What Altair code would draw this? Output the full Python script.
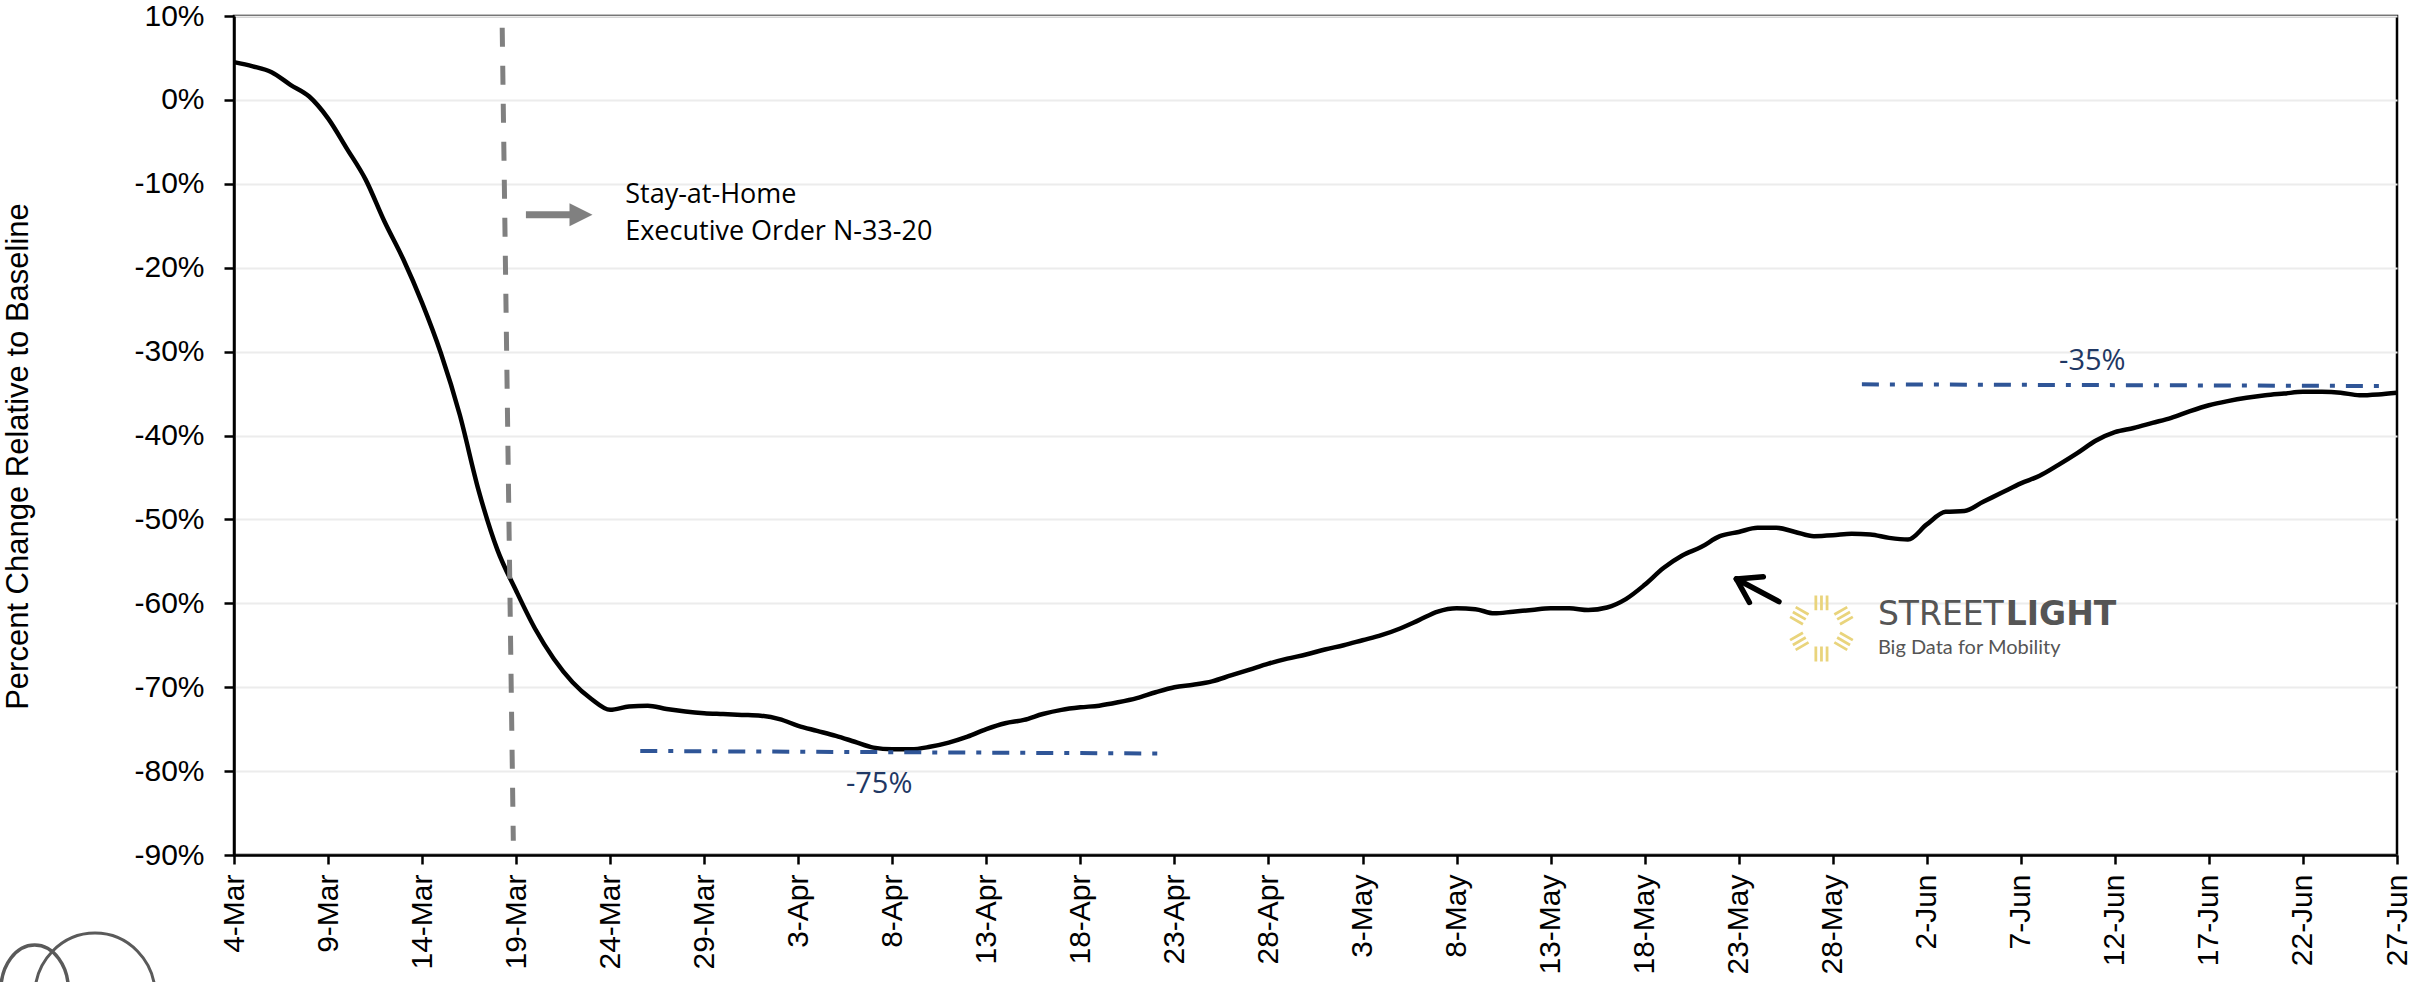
import math
import altair as alt
import pandas as pd

# ---------------- data ----------------
tick_labels = ["4-Mar", "9-Mar", "14-Mar", "19-Mar", "24-Mar", "29-Mar", "3-Apr", "8-Apr",
               "13-Apr", "18-Apr", "23-Apr", "28-Apr", "3-May", "8-May", "13-May", "18-May",
               "23-May", "28-May", "2-Jun", "7-Jun", "12-Jun", "17-Jun", "22-Jun", "27-Jun"]
tick_days = list(range(0, 116, 5))

# percent change, one value per day starting 4-Mar (day 0) to 27-Jun (day 115)
pct_change = [
    4.5, 4.0, 3.3, 1.8, 0.4, -2.2, -5.8, -9.5, -14.5, -19.0,
    -24.2, -30.2, -37.5, -46.5, -53.6, -58.5, -63.0, -66.6, -69.4, -71.4,
    -72.7, -72.3, -72.2, -72.6, -72.9, -73.1, -73.2, -73.3, -73.4, -73.8,
    -74.6, -75.2, -75.8, -76.5, -77.2, -77.4, -77.4, -77.1, -76.6, -75.9,
    -75.0, -74.3, -73.9, -73.2, -72.7, -72.4, -72.2, -71.8, -71.3, -70.6,
    -70.0, -69.7, -69.3, -68.6, -67.9, -67.2, -66.6, -66.1, -65.5, -65.0,
    -64.4, -63.8, -63.0, -62.0, -61.0, -60.6, -60.7, -61.2, -61.0, -60.8,
    -60.6, -60.6, -60.8, -60.5, -59.5, -57.8, -55.8, -54.3, -53.3, -52.0,
    -51.5, -51.0, -51.0, -51.5, -52.0, -51.9, -51.7, -51.8, -52.2, -52.4,
    -50.6, -49.1, -49.0, -47.9, -46.8, -45.7, -44.8, -43.5, -42.1, -40.6,
    -39.6, -39.1, -38.5, -37.9, -37.1, -36.4, -35.9, -35.5, -35.2, -35.0,
    -34.8, -34.8, -34.9, -35.2, -35.1, -34.9,
]
days = list(range(len(pct_change)))

# annotation anchors (day offset from 4-Mar, percent)
order_line_day = [14.26, 14.85]
order_line_pct = [8.6, -88.3]

gray_arrow_day = [15.52, 18.0]
gray_arrow_pct = -13.7
gray_head_day = 18.45

order_text = ["Stay-at-Home", "Executive Order N-33-20"]
order_text_day = [20.8, 20.8]
order_text_pct = [-11.3, -15.74]

level_seg = ["low", "low", "high", "high"]
level_day = [21.6, 49.2, 86.55, 114.1]
level_pct = [-77.6, -77.9, -33.9, -34.1]

level_text = ["-75%", "-35%"]
level_text_day = [34.3, 98.8]
level_text_pct = [-81.5, -31.1]

black_arrow_x = [79.88, 79.88, 79.88]
black_arrow_y = [-57.1, -57.1, -57.1]
black_arrow_x2 = [82.14, 81.31, 80.57]
black_arrow_y2 = [-59.8, -56.84, -59.9]

logo_day = 84.4
logo_pct = -63.0
brand_text = ["STREET", "LIGHT", "Big Data for Mobility"]
brand_day = [87.4, 94.2, 87.4]
brand_pct = [-62.6, -62.6, -66.0]

corner_day = [-10.6, -7.39]
corner_pct = [-106.1, -106.7]

# ---------------- shapes ----------------
def sun_path():
    parts = []
    for k in range(6):
        th = math.radians(90 + 60 * k)
        ux, uy = math.cos(th), -math.sin(th)
        px, py = -uy, ux
        w = 0.042
        for off in (-0.17, 0.0, 0.17):
            pts = [(0.55 * ux + (off - w) * px, 0.55 * uy + (off - w) * py),
                   (1.0 * ux + (off - w) * px, 1.0 * uy + (off - w) * py),
                   (1.0 * ux + (off + w) * px, 1.0 * uy + (off + w) * py),
                   (0.55 * ux + (off + w) * px, 0.55 * uy + (off + w) * py)]
            parts.append("M " + " L ".join(f"{x:.3f} {y:.3f}" for x, y in pts) + " Z")
    return " ".join(parts)

TRI_RIGHT = "M -1 -1 L 1 0 L -1 1 Z"
ELLIPSE_A = "M -0.75 0 A 0.75 1 0 1 1 0.75 0 A 0.75 1 0 1 1 -0.75 0"
ELLIPSE_B = "M -0.97 0 A 0.97 1 0 1 1 0.97 0 A 0.97 1 0 1 1 -0.97 0"

# ---------------- scales / axes ----------------
label_arr = "[" + ",".join(f"'{t}'" for t in tick_labels) + "]"
xscale = alt.Scale(domain=[0, 115], nice=False, zero=False)
yscale = alt.Scale(domain=[-90, 10], nice=False, zero=False)

xaxis = alt.Axis(values=tick_days, labelExpr=f"{label_arr}[round(datum.value/5)]",
                 labelAngle=270, labelAlign="right", labelBaseline="middle",
                 labelFont="Liberation Sans", labelFontSize=30, labelColor="black",
                 labelPadding=10, labelOverlap=False, labelFlush=False,
                 tickColor="black", tickSize=9, tickWidth=2.5,
                 domainColor="black", domainWidth=2.5, grid=False, title=None)
yaxis = alt.Axis(values=list(range(-90, 11, 10)), labelExpr="datum.value + '%'",
                 labelFont="Liberation Sans", labelFontSize=30, labelColor="black",
                 labelPadding=20, tickColor="black", tickSize=10, tickWidth=2.5,
                 domainColor="black", domainWidth=2.5,
                 grid=True, gridColor="#ECECEC", gridWidth=2,
                 title="Percent Change Relative to Baseline",
                 titleFont="Liberation Sans", titleFontSize=31, titleFontWeight="normal",
                 titleColor="black", titleAngle=270, titleX=-216, titleY=440,
                 titleAlign="center", titleBaseline="middle")

main_df = pd.DataFrame({"day": days, "pct": pct_change})
base = alt.Chart(main_df)

curve = base.mark_line(color="black", strokeWidth=4.5, interpolate="monotone").encode(
    x=alt.X("day:Q", scale=xscale, axis=xaxis),
    y=alt.Y("pct:Q", scale=yscale, axis=yaxis),
)

order_df = pd.DataFrame({"day": order_line_day, "pct": order_line_pct})
order_line = alt.Chart(order_df).mark_line(color="#808080", strokeWidth=5,
                                           strokeDash=[19, 19], strokeCap="butt").encode(
    x=alt.X("day:Q", scale=xscale), y=alt.Y("pct:Q", scale=yscale))

ga_df = pd.DataFrame({"d1": [gray_arrow_day[0]], "d2": [gray_arrow_day[1]],
                      "pct": [gray_arrow_pct], "hd": [gray_head_day]})
gray_shaft = alt.Chart(ga_df).mark_rule(color="#808080", strokeWidth=7).encode(
    x=alt.X("d1:Q", scale=xscale), x2="d2:Q", y=alt.Y("pct:Q", scale=yscale))
gray_head = alt.Chart(ga_df).mark_point(shape=TRI_RIGHT, filled=True, size=529,
                                        color="#808080", opacity=1).encode(
    x=alt.X("hd:Q", scale=xscale), y=alt.Y("pct:Q", scale=yscale))

ot_df = pd.DataFrame({"text": order_text, "day": order_text_day, "pct": order_text_pct})
order_txt = alt.Chart(ot_df).mark_text(align="left", baseline="middle", font="Open Sans",
                                       fontSize=27, color="black").encode(
    x=alt.X("day:Q", scale=xscale), y=alt.Y("pct:Q", scale=yscale), text="text:N")

lv_df = pd.DataFrame({"seg": level_seg, "day": level_day, "pct": level_pct})
levels = alt.Chart(lv_df).mark_line(color="#2F5597", strokeWidth=4,
                                    strokeDash=[17, 11, 5, 11], strokeCap="butt").encode(
    x=alt.X("day:Q", scale=xscale), y=alt.Y("pct:Q", scale=yscale), detail="seg:N")

lt_df = pd.DataFrame({"text": level_text, "day": level_text_day, "pct": level_text_pct})
level_txt = alt.Chart(lt_df).mark_text(align="center", baseline="middle", font="Open Sans",
                                       fontSize=29, color="#1F3864").encode(
    x=alt.X("day:Q", scale=xscale), y=alt.Y("pct:Q", scale=yscale), text="text:N")

ba_df = pd.DataFrame({"x": black_arrow_x, "y": black_arrow_y,
                      "x2": black_arrow_x2, "y2": black_arrow_y2})
black_arrow = alt.Chart(ba_df).mark_rule(color="black", strokeWidth=5.5, strokeCap="round").encode(
    x=alt.X("x:Q", scale=xscale), y=alt.Y("y:Q", scale=yscale), x2="x2:Q", y2="y2:Q")

logo_df = pd.DataFrame({"day": [logo_day], "pct": [logo_pct]})
sun = alt.Chart(logo_df).mark_point(shape=sun_path(), filled=True, size=4356,
                                    color="#E9D47C", opacity=1).encode(
    x=alt.X("day:Q", scale=xscale), y=alt.Y("pct:Q", scale=yscale))

br_df = pd.DataFrame({"text": brand_text, "day": brand_day, "pct": brand_pct})
brand1 = alt.Chart(br_df.iloc[[0]]).mark_text(align="left", baseline="alphabetic",
                                              font="DejaVu Sans", fontSize=33,
                                              color="#555555").encode(
    x=alt.X("day:Q", scale=xscale), y=alt.Y("pct:Q", scale=yscale), text="text:N")
brand2 = alt.Chart(br_df.iloc[[1]]).mark_text(align="left", baseline="alphabetic",
                                              font="DejaVu Sans", fontSize=33, fontWeight="bold",
                                              color="#555555").encode(
    x=alt.X("day:Q", scale=xscale), y=alt.Y("pct:Q", scale=yscale), text="text:N")
brand3 = alt.Chart(br_df.iloc[[2]]).mark_text(align="left", baseline="alphabetic",
                                              font="Lato", fontSize=20,
                                              color="#555555").encode(
    x=alt.X("day:Q", scale=xscale), y=alt.Y("pct:Q", scale=yscale), text="text:N")

c_df = pd.DataFrame({"day": corner_day, "pct": corner_pct})
corner1 = alt.Chart(c_df.iloc[[0]]).mark_point(shape=ELLIPSE_A, filled=False, size=8100,
                                               color="#5A5A5A", strokeWidth=3.5, opacity=1).encode(
    x=alt.X("day:Q", scale=xscale), y=alt.Y("pct:Q", scale=yscale))
corner2 = alt.Chart(c_df.iloc[[1]]).mark_point(shape=ELLIPSE_B, filled=False, size=15376,
                                               color="#5A5A5A", strokeWidth=3, opacity=1).encode(
    x=alt.X("day:Q", scale=xscale), y=alt.Y("pct:Q", scale=yscale))

chart = alt.layer(
    curve, order_line, gray_shaft, gray_head, order_txt, levels, level_txt,
    black_arrow, sun, brand1, brand2, brand3, corner1, corner2,
).properties(
    width=2163, height=839,
    autosize=alt.AutoSizeParams(type="none"),
    padding={"left": 234, "top": 16, "right": 15, "bottom": 127},
    background="white",
).configure_view(stroke="black", strokeWidth=2.5)

chart.save("out.html", embed_options={"renderer": "svg", "actions": False})
